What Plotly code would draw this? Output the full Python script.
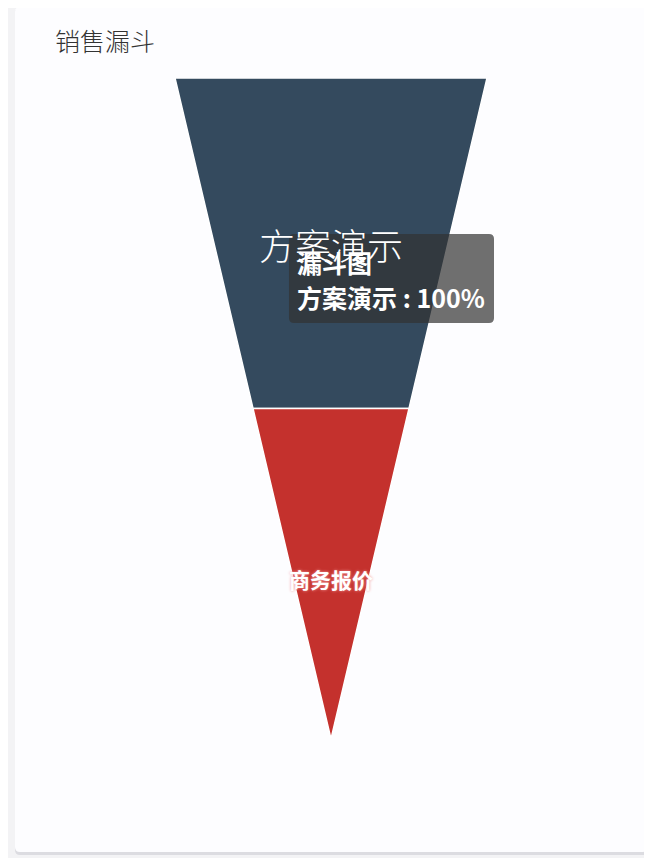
"""plot.py - 销售漏斗 funnel recreated with plotly."""
import plotly.graph_objects as go

# data
title_text = "销售漏斗"
series_name = "漏斗图"
stages = ["方案演示", "商务报价"]
stage_values = [100, 50]
stage_colors = ["#344a5e", "#c4312d"]
value_max = 100

# the page body has an 8px margin, so lay out in page pixels and shift
OFF = 8
W, H = 652 - OFF, 858 - OFF
plot_left, plot_right = 175 - OFF, 487 - OFF
plot_top, plot_bottom = 78 - OFF, 739 - OFF


def px_x(px):
    """page pixel x -> paper x"""
    return (px - OFF - plot_left) / (plot_right - plot_left)


def px_y(py):
    """page pixel y -> paper y"""
    return (plot_bottom - (py - OFF)) / (plot_bottom - plot_top)


def rounded_rect(x0, y0, x1, y1, r):
    """svg path of a rounded box given in page pixels, in paper coords"""
    pts = [
        ("M", x0 + r, y0), ("L", x1 - r, y0), ("Q", x1, y0, x1, y0 + r),
        ("L", x1, y1 - r), ("Q", x1, y1, x1 - r, y1),
        ("L", x0 + r, y1), ("Q", x0, y1, x0, y1 - r),
        ("L", x0, y0 + r), ("Q", x0, y0, x0 + r, y0),
    ]
    out = []
    for p in pts:
        cmd, coords = p[0], p[1:]
        pairs = [f"{px_x(coords[k]):.5f},{px_y(coords[k + 1]):.5f}"
                 for k in range(0, len(coords), 2)]
        out.append(cmd + " ".join(pairs))
    return " ".join(out) + " Z"


fig = go.Figure()

# each stage is a trapezoid: top width = its value, bottom width = next value (0 for last)
for i, (name, val) in enumerate(zip(stages, stage_values)):
    nxt = stage_values[i + 1] if i + 1 < len(stage_values) else 0
    xs = [-val / 2, val / 2, nxt / 2, -nxt / 2, -val / 2]
    ys = [i, i, i + 1, i + 1, i]
    fig.add_trace(go.Scatter(
        x=xs, y=ys, fill="toself", mode="lines",
        fillcolor=stage_colors[i],
        line=dict(color="white", width=1.5),
        name=name, hoverinfo="skip", showlegend=False,
    ))

# labels in the middle of each stage
label_styles = [
    dict(size=36, color="white", family="Noto Sans CJK SC", weight=300),
    dict(size=21, color="white", family="Noto Sans CJK SC", weight=700,
         shadow="0px 0px 3px #f29a9a"),
]
for i, name in enumerate(stages):
    fig.add_annotation(
        x=0, y=i + 0.5, xref="x", yref="y", text=name, showarrow=False,
        font=label_styles[i], yshift=-1 if i == 0 else -5,
    )

# card background with a faint shadow
fig.add_shape(type="path", xref="paper", yref="paper", layer="below",
              path=rounded_rect(15, 8, 648, 855, 5),
              fillcolor="#dcdce1", line=dict(width=0))
fig.add_shape(type="path", xref="paper", yref="paper", layer="below",
              path=rounded_rect(15, 7, 647, 852, 5),
              fillcolor="#fdfdff", line=dict(width=0))

# title
fig.add_annotation(
    text=title_text, xref="paper", yref="paper",
    x=px_x(53), y=px_y(40),
    xanchor="left", yanchor="middle", showarrow=False,
    font=dict(size=25, color="#333333", family="Noto Sans CJK SC", weight=300),
)

# tooltip as shown in the screenshot
top_pct = stage_values[0] / value_max * 100
fig.add_shape(type="path", xref="paper", yref="paper",
              path=rounded_rect(289, 234, 494, 323, 5),
              fillcolor="rgba(50,50,50,0.7)", line=dict(width=0))
tip_lines = [f"<b>{series_name}</b>", f"<b>{stages[0]} : {top_pct:.0f}%</b>"]
for k, (line, ypx) in enumerate(zip(tip_lines, [262, 297])):
    fig.add_annotation(
        text=line, xref="paper", yref="paper",
        x=px_x(295), y=px_y(ypx),
        xanchor="left", yanchor="middle", align="left", showarrow=False,
        font=dict(size=25, color="white", family="Noto Sans CJK SC"),
    )

fig.update_xaxes(range=[-value_max / 2, value_max / 2], visible=False, fixedrange=True)
fig.update_yaxes(range=[len(stages), 0], visible=False, fixedrange=True)

fig.update_layout(
    width=W, height=H,
    margin=dict(l=plot_left, r=W - plot_right, t=plot_top, b=H - plot_bottom),
    paper_bgcolor="#f3f3f5", plot_bgcolor="rgba(0,0,0,0)",
    font=dict(family="Noto Sans CJK SC"),
)

fig.write_html("out.html")
